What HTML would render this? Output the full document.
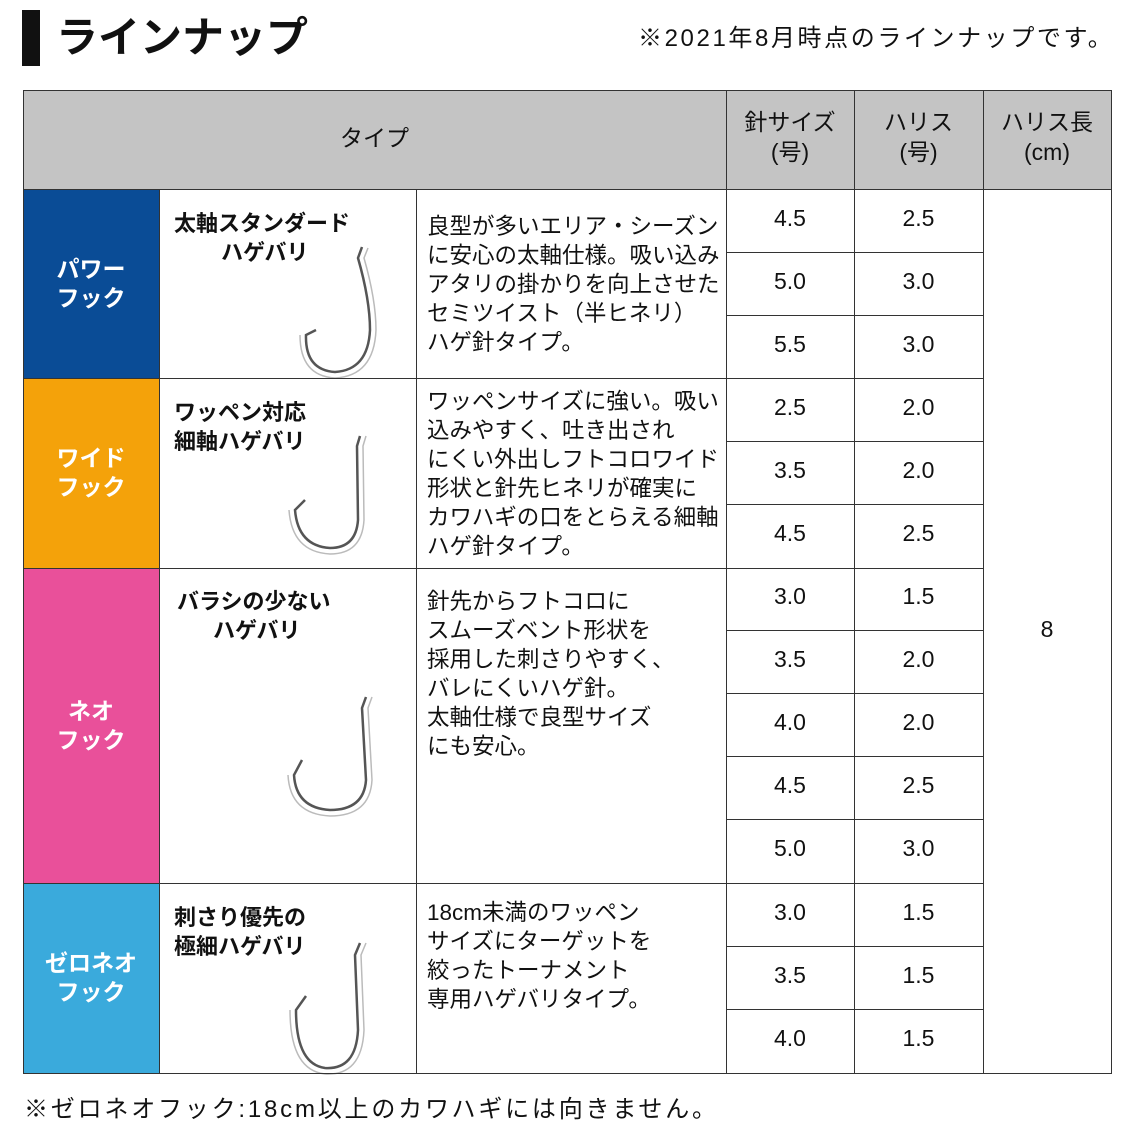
<!DOCTYPE html>
<html><head><meta charset="utf-8"><style>
body{margin:0;width:1134px;height:1134px;background:#fff;position:relative;overflow:hidden;font-family:"Liberation Sans","Noto Sans CJK JP",sans-serif;color:#111}
.a{position:absolute}
.c{position:absolute;display:flex;align-items:center;justify-content:center;text-align:center}
.t{color:#fff;font-weight:bold;font-size:23px;line-height:29px}
.n{font-size:23px}
.h{position:absolute;background:#333;height:1px}
.v{position:absolute;background:#333;width:1px}
.nm{position:absolute;font-weight:bold;font-size:22px;line-height:29px;left:174px}
.ds{position:absolute;left:427px;font-size:22.5px;line-height:29px;white-space:nowrap}
</style></head><body>
<div class="a" style="left:22px;top:10px;width:18px;height:56px;background:#111"></div>
<div class="a" style="left:56px;top:12px;font-size:42px;font-weight:bold;line-height:52px">ラインナップ</div>
<div class="a" style="left:638px;top:18px;font-size:24px;letter-spacing:2.6px;white-space:nowrap">※2021年8月時点のラインナップです。</div>

<div class="c" style="left:23px;top:91px;width:1088px;height:98px;background:#c4c4c4"></div>
<div class="c n" style="left:23px;top:91px;width:703px;height:90px">タイプ</div>
<div class="c n" style="left:726px;top:88px;width:128px;height:98px;line-height:30px">針サイズ<br>(号)</div>
<div class="c n" style="left:854px;top:88px;width:129px;height:98px;line-height:30px">ハリス<br>(号)</div>
<div class="c n" style="left:983px;top:88px;width:128px;height:98px;line-height:30px">ハリス長<br>(cm)</div>

<div class="c t" style="left:23px;top:189px;width:136px;height:189px;background:#0a4c96">パワー<br>フック</div>
<div class="c t" style="left:23px;top:378px;width:136px;height:190px;background:#f4a20a">ワイド<br>フック</div>
<div class="c t" style="left:23px;top:568px;width:136px;height:315px;background:#e9509a">ネオ<br>フック</div>
<div class="c t" style="left:23px;top:883px;width:136px;height:190px;background:#3aaadc">ゼロネオ<br>フック</div>

<div class="nm" style="top:209px">太軸スタンダード<br><span style="margin-left:47px">ハゲバリ</span></div>
<div class="nm" style="top:398px">ワッペン対応<br>細軸ハゲバリ</div>
<div class="nm" style="top:587px;left:177px">バラシの少ない<br><span style="margin-left:36px">ハゲバリ</span></div>
<div class="nm" style="top:903px">刺さり優先の<br>極細ハゲバリ</div>

<div class="ds" style="top:212px">良型が多いエリア・シーズン<br>に安心の太軸仕様。吸い込み<br>アタリの掛かりを向上させた<br>セミツイスト（半ヒネリ）<br>ハゲ針タイプ。</div>
<div class="ds" style="top:387px">ワッペンサイズに強い。吸い<br>込みやすく、吐き出され<br>にくい外出しフトコロワイド<br>形状と針先ヒネリが確実に<br>カワハギの口をとらえる細軸<br>ハゲ針タイプ。</div>
<div class="ds" style="top:587px">針先からフトコロに<br>スムーズベント形状を<br>採用した刺さりやすく、<br>バレにくいハゲ針。<br>太軸仕様で良型サイズ<br>にも安心。</div>
<div class="ds" style="top:898px">18cm未満のワッペン<br>サイズにターゲットを<br>絞ったトーナメント<br>専用ハゲバリタイプ。</div>

<svg class="a" style="left:0;top:0" width="1134" height="1134" fill="none" stroke="#555" stroke-width="2.5">
<path d="M362 247 L358 258 Q370 300 370 330 Q368 370 335 372 Q305 370 306 335 L316 330"/>
<path d="M360 436 L357 446 L358 520 Q356 548 330 548 Q298 546 295 510 L305 500"/>
<path d="M366 697 L362 708 L366 780 Q364 810 330 810 Q296 808 294 775 L302 760"/>
<path d="M360 943 L355 955 L358 1030 Q356 1070 325 1068 Q296 1064 296 1010 L306 996"/>
</svg>
<svg class="a" style="left:0;top:0" width="1134" height="1134" fill="none" stroke="#bbb" stroke-width="1.5">
<path d="M368 248 L364 258 Q376 300 376 330 Q374 376 335 378 Q300 376 300 335"/>
<path d="M366 436 L363 446 L364 520 Q362 554 330 554 Q292 552 289 510"/>
<path d="M372 697 L368 708 L372 780 Q370 816 330 816 Q290 814 288 775"/>
<path d="M366 943 L361 955 L364 1030 Q362 1076 325 1074 Q290 1070 290 1010"/>
</svg>

<div class="c n" style="left:726px;top:187px;width:128px;height:63px">4.5</div><div class="c n" style="left:854px;top:187px;width:129px;height:63px">2.5</div>
<div class="c n" style="left:726px;top:250px;width:128px;height:63px">5.0</div><div class="c n" style="left:854px;top:250px;width:129px;height:63px">3.0</div>
<div class="c n" style="left:726px;top:313px;width:128px;height:63px">5.5</div><div class="c n" style="left:854px;top:313px;width:129px;height:63px">3.0</div>
<div class="c n" style="left:726px;top:376px;width:128px;height:63px">2.5</div><div class="c n" style="left:854px;top:376px;width:129px;height:63px">2.0</div>
<div class="c n" style="left:726px;top:439px;width:128px;height:63px">3.5</div><div class="c n" style="left:854px;top:439px;width:129px;height:63px">2.0</div>
<div class="c n" style="left:726px;top:502px;width:128px;height:63px">4.5</div><div class="c n" style="left:854px;top:502px;width:129px;height:63px">2.5</div>
<div class="c n" style="left:726px;top:565px;width:128px;height:63px">3.0</div><div class="c n" style="left:854px;top:565px;width:129px;height:63px">1.5</div>
<div class="c n" style="left:726px;top:628px;width:128px;height:63px">3.5</div><div class="c n" style="left:854px;top:628px;width:129px;height:63px">2.0</div>
<div class="c n" style="left:726px;top:691px;width:128px;height:63px">4.0</div><div class="c n" style="left:854px;top:691px;width:129px;height:63px">2.0</div>
<div class="c n" style="left:726px;top:754px;width:128px;height:63px">4.5</div><div class="c n" style="left:854px;top:754px;width:129px;height:63px">2.5</div>
<div class="c n" style="left:726px;top:817px;width:128px;height:63px">5.0</div><div class="c n" style="left:854px;top:817px;width:129px;height:63px">3.0</div>
<div class="c n" style="left:726px;top:881px;width:128px;height:63px">3.0</div><div class="c n" style="left:854px;top:881px;width:129px;height:63px">1.5</div>
<div class="c n" style="left:726px;top:944px;width:128px;height:63px">3.5</div><div class="c n" style="left:854px;top:944px;width:129px;height:63px">1.5</div>
<div class="c n" style="left:726px;top:1007px;width:128px;height:63px">4.0</div><div class="c n" style="left:854px;top:1007px;width:129px;height:63px">1.5</div>
<div class="c n" style="left:983px;top:187px;width:128px;height:884px">8</div>

<div class="h" style="left:23px;top:90px;width:1089px"></div>
<div class="h" style="left:23px;top:189px;width:1089px"></div>
<div class="h" style="left:23px;top:378px;width:960px"></div>
<div class="h" style="left:23px;top:568px;width:960px"></div>
<div class="h" style="left:23px;top:883px;width:960px"></div>
<div class="h" style="left:23px;top:1073px;width:1089px"></div>
<div class="h" style="left:726px;top:252px;width:257px"></div>
<div class="h" style="left:726px;top:315px;width:257px"></div>
<div class="h" style="left:726px;top:441px;width:257px"></div>
<div class="h" style="left:726px;top:504px;width:257px"></div>
<div class="h" style="left:726px;top:630px;width:257px"></div>
<div class="h" style="left:726px;top:693px;width:257px"></div>
<div class="h" style="left:726px;top:756px;width:257px"></div>
<div class="h" style="left:726px;top:819px;width:257px"></div>
<div class="h" style="left:726px;top:946px;width:257px"></div>
<div class="h" style="left:726px;top:1009px;width:257px"></div>
<div class="v" style="left:23px;top:90px;height:984px"></div>
<div class="v" style="left:159px;top:189px;height:884px"></div>
<div class="v" style="left:416px;top:189px;height:884px"></div>
<div class="v" style="left:726px;top:90px;height:984px"></div>
<div class="v" style="left:854px;top:90px;height:984px"></div>
<div class="v" style="left:983px;top:90px;height:984px"></div>
<div class="v" style="left:1111px;top:90px;height:984px"></div>

<div class="a" style="left:24px;top:1089px;font-size:24px;letter-spacing:2.8px;white-space:nowrap">※ゼロネオフック:18cm以上のカワハギには向きません。</div>
</body></html>
